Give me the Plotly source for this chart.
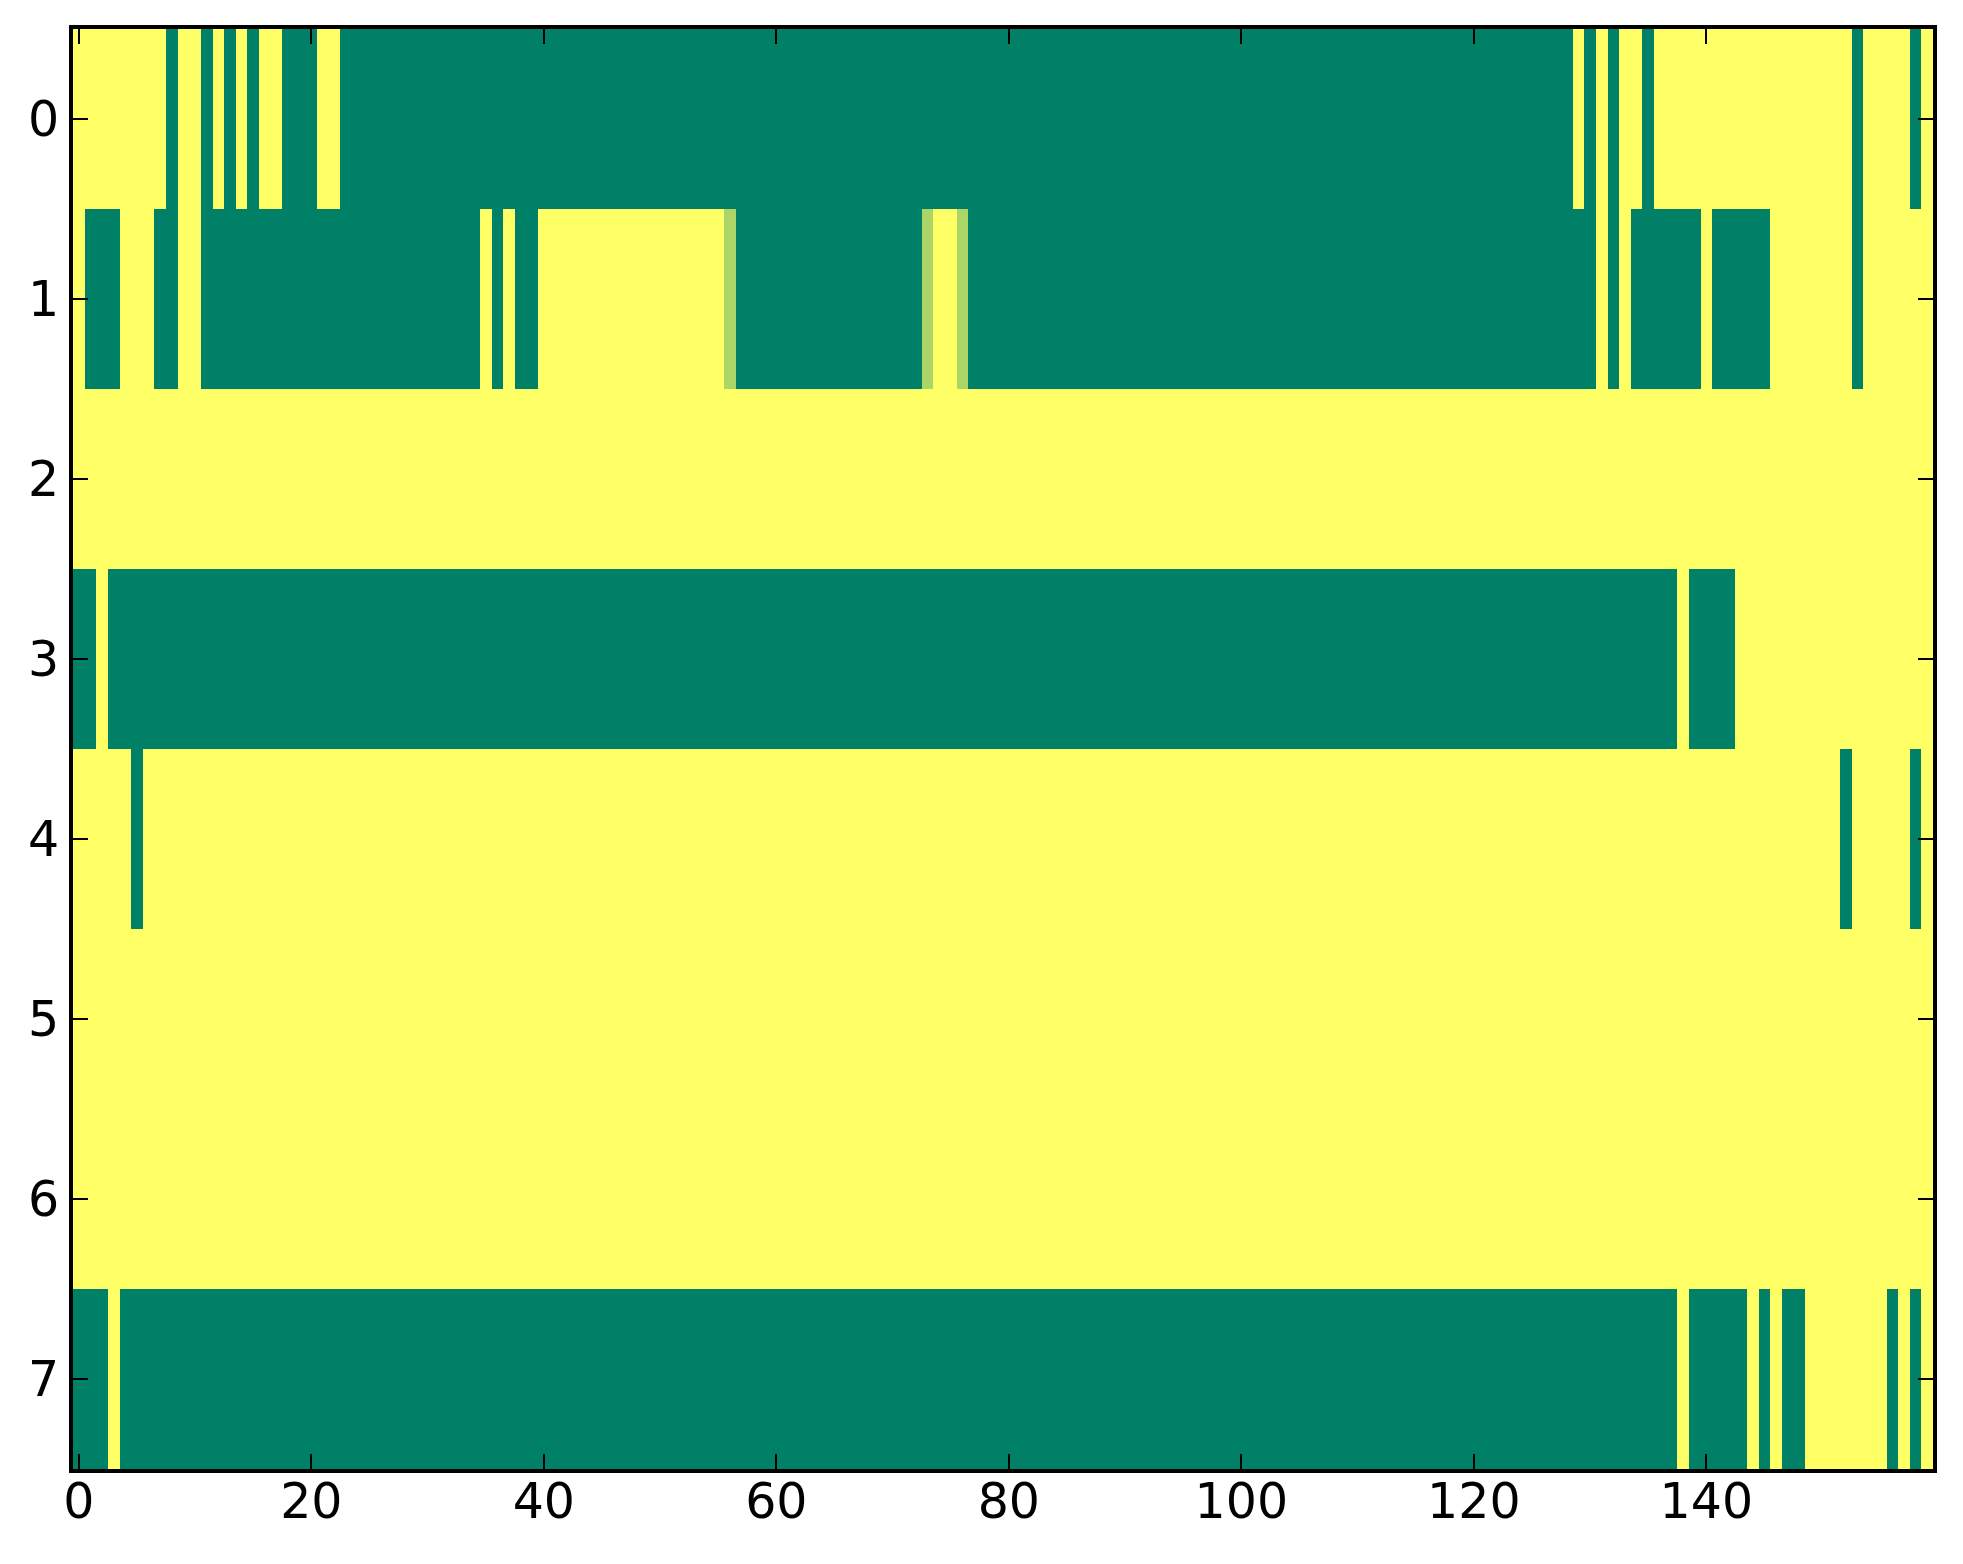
import plotly.graph_objects as go

# cell colours, one string per row, 10 columns per group
# g = low (green), y = high (yellow), m = in between (light green)
row0 = "yyyyyyyygy ygygygyygg gyyggggggg gggggggggg gggggggggg gggggggggg gggggggggg gggggggggg gggggggggg gggggggggg gggggggggg gggggggggg gggggggggy gygyygyyyy yyyyyyyyyy yyygyyyygy"
row1 = "ygggyyyggy yggggggggg gggggggggg gggggygygg yyyyyyyyyy yyyyyymggg gggggggggg gggmyymggg gggggggggg gggggggggg gggggggggg gggggggggg gggggggggg gygygggggg ygggggyyyy yyygyyyyyy"
row2 = "yyyyyyyyyy yyyyyyyyyy yyyyyyyyyy yyyyyyyyyy yyyyyyyyyy yyyyyyyyyy yyyyyyyyyy yyyyyyyyyy yyyyyyyyyy yyyyyyyyyy yyyyyyyyyy yyyyyyyyyy yyyyyyyyyy yyyyyyyyyy yyyyyyyyyy yyyyyyyyyy"
row3 = "ggyggggggg gggggggggg gggggggggg gggggggggg gggggggggg gggggggggg gggggggggg gggggggggg gggggggggg gggggggggg gggggggggg gggggggggg gggggggggg ggggggggyg gggyyyyyyy yyyyyyyyyy"
row4 = "yyyyygyyyy yyyyyyyyyy yyyyyyyyyy yyyyyyyyyy yyyyyyyyyy yyyyyyyyyy yyyyyyyyyy yyyyyyyyyy yyyyyyyyyy yyyyyyyyyy yyyyyyyyyy yyyyyyyyyy yyyyyyyyyy yyyyyyyyyy yyyyyyyyyy yygyyyyygy"
row5 = "yyyyyyyyyy yyyyyyyyyy yyyyyyyyyy yyyyyyyyyy yyyyyyyyyy yyyyyyyyyy yyyyyyyyyy yyyyyyyyyy yyyyyyyyyy yyyyyyyyyy yyyyyyyyyy yyyyyyyyyy yyyyyyyyyy yyyyyyyyyy yyyyyyyyyy yyyyyyyyyy"
row6 = "yyyyyyyyyy yyyyyyyyyy yyyyyyyyyy yyyyyyyyyy yyyyyyyyyy yyyyyyyyyy yyyyyyyyyy yyyyyyyyyy yyyyyyyyyy yyyyyyyyyy yyyyyyyyyy yyyyyyyyyy yyyyyyyyyy yyyyyyyyyy yyyyyyyyyy yyyyyyyyyy"
row7 = "gggygggggg gggggggggg gggggggggg gggggggggg gggggggggg gggggggggg gggggggggg gggggggggg gggggggggg gggggggggg gggggggggg gggggggggg gggggggggg ggggggggyg ggggygyggy yyyyyygygy"

levels = {"g": 0.0, "m": 0.67, "y": 1.0}
rows = [row0, row1, row2, row3, row4, row5, row6, row7]
z = [[levels[c] for c in r.replace(" ", "")] for r in rows]

xticks = [0, 20, 40, 60, 80, 100, 120, 140]
yticks = [0, 1, 2, 3, 4, 5, 6, 7]

# matplotlib "summer"
summer = [[0, "rgb(0,128,102)"], [1, "rgb(255,255,102)"]]

fig = go.Figure(go.Heatmap(z=z, colorscale=summer, zmin=0, zmax=1,
                           showscale=False, hoverinfo="skip"))

axis_style = dict(showline=True, linewidth=4, linecolor="black", mirror="ticks",
                  ticks="inside", ticklen=15, tickwidth=2, tickcolor="black",
                  showgrid=False, zeroline=False,
                  tickfont=dict(family="DejaVu Sans", size=49, color="black"))

fig.update_xaxes(range=[-0.5, 159.5], tickvals=xticks, ticklabelstandoff=-14, **axis_style)
fig.update_yaxes(range=[7.5, -0.5], tickvals=yticks, **axis_style)

# page body adds 8px around the plot, so the figure is a bit smaller than the window
fig.update_layout(width=1947, height=1548,
                  margin=dict(l=65, r=22, t=21, b=87),
                  paper_bgcolor="white", plot_bgcolor="white")

fig.write_html("out.html")
